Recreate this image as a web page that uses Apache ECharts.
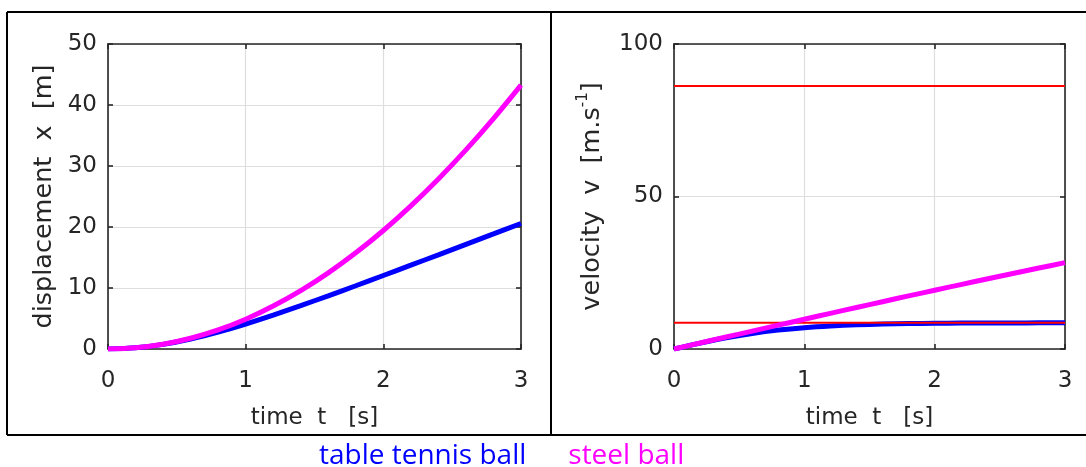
<!DOCTYPE html>
<html>
<head>
<meta charset="utf-8">
<script src="https://cdn.jsdelivr.net/npm/echarts@6/dist/echarts.min.js"></script>
<style>
  html, body { margin: 0; padding: 0; background: #fff; }
  #chart { width: 1086px; height: 467px; }
</style>
</head>
<body>
<div id="chart"></div>
<script>
// Sample times [s]
const times = [0, 0.2, 0.4, 0.6, 0.8, 1.0, 1.2, 1.4, 1.6, 1.8, 2.0, 2.2, 2.4, 2.6, 2.8, 3.0];

// Displacement [m]
const tableTennisX = [0, 0.19, 0.76, 1.64, 2.78, 4.10, 5.56, 7.11, 8.72, 10.37, 12.05, 13.74, 15.44, 17.15, 18.86, 20.58];
const steelX = [0, 0.20, 0.78, 1.76, 3.13, 4.89, 7.04, 9.56, 12.48, 15.77, 19.43, 23.47, 27.88, 32.65, 37.78, 43.27];

// Velocity [m/s]
const tableTennisV = [0, 1.93, 3.67, 5.11, 6.21, 7.00, 7.55, 7.92, 8.16, 8.32, 8.42, 8.49, 8.53, 8.55, 8.57, 8.58];
const steelV = [0, 1.96, 3.92, 5.87, 7.82, 9.76, 11.69, 13.61, 15.51, 17.40, 19.27, 21.12, 22.95, 24.76, 26.55, 28.31];

// Terminal velocities [m/s]
const terminalV = [8.6, 86.2];

// Axis ranges
const timeRange = [0, 3, 1];
const dispRange = [0, 50, 10];
const velRange = [0, 100, 50];

const names = ['table tennis ball', 'steel ball'];
const colors = ['#0000ff', '#ff00ff'];

const pairs = (ys) => times.map((t, i) => [t, ys[i]]);

const TXT = '#262626';
const FONT = 'DejaVu Sans';
const tickFont = { fontFamily: FONT, fontSize: 23, color: TXT };
const nameFont = { fontFamily: FONT, fontSize: 23, color: TXT };
const yNameSize = 25.5;

function xAxis(grid, top, withName) {
  return {
    type: 'value', gridIndex: grid, position: top ? 'top' : 'bottom',
    min: timeRange[0], max: timeRange[1], interval: timeRange[2],
    name: withName ? 'time  t   [s]' : '', nameLocation: 'middle', nameGap: 58,
    nameTextStyle: nameFont,
    axisLine: { show: true, onZero: false, lineStyle: { color: TXT, width: 1.6 } },
    axisTick: { show: true, inside: true, length: 5, lineStyle: { color: TXT, width: 1.6 } },
    axisLabel: { show: !top, margin: 21, ...tickFont },
    splitLine: { show: !top, lineStyle: { color: '#dedede', width: 1.2 } }
  };
}

function yAxis(grid, right, range, name, gap) {
  return {
    type: 'value', gridIndex: grid, position: right ? 'right' : 'left',
    min: range[0], max: range[1], interval: range[2],
    name: name || '', nameLocation: 'middle', nameGap: gap || 0, nameRotate: 90,
    nameTextStyle: {
      ...nameFont,
      fontSize: yNameSize,
      rich: {
        n: { fontFamily: FONT, fontSize: yNameSize, color: TXT, lineHeight: 32 },
        s: { fontFamily: FONT, fontSize: 15, color: TXT, lineHeight: 32, verticalAlign: 'top', padding: [0, 0, 15, 0] }
      }
    },
    axisLine: { show: true, onZero: false, lineStyle: { color: TXT, width: 1.6 } },
    axisTick: { show: true, inside: true, length: 5, lineStyle: { color: TXT, width: 1.6 } },
    axisLabel: { show: !right, margin: 11, ...tickFont },
    splitLine: { show: !right, lineStyle: { color: '#dedede', width: 1.2 } }
  };
}

function curve(name, color, xi, yi, ys, z) {
  return {
    type: 'line', name: name, xAxisIndex: xi, yAxisIndex: yi,
    data: pairs(ys), showSymbol: false, smooth: 0.3, z: z,
    lineStyle: { color: color, width: 5 }, itemStyle: { color: color },
    emphasis: { disabled: true }
  };
}

function flatLine(v) {
  return {
    type: 'line', xAxisIndex: 2, yAxisIndex: 2, showSymbol: false, z: 3,
    data: [[timeRange[0], v], [timeRange[1], v]],
    lineStyle: { color: '#ff0000', width: 2 }, emphasis: { disabled: true }
  };
}

const chart = echarts.init(document.getElementById('chart'), null, { renderer: 'canvas' });
chart.setOption({
  animation: false,
  backgroundColor: '#ffffff',
  grid: [
    { left: 108, top: 44, width: 413, height: 305 },
    { left: 674, top: 44, width: 391, height: 305 }
  ],
  xAxis: [xAxis(0, false, true), xAxis(0, true, false), xAxis(1, false, true), xAxis(1, true, false)],
  yAxis: [
    yAxis(0, false, dispRange, 'displacement  x  [m]', 51),
    yAxis(0, true, dispRange),
    yAxis(1, false, velRange, '{n|velocity  v  [m.s}{s|-1}{n|]}', 66),
    yAxis(1, true, velRange)
  ],
  legend: {
    left: 309, top: 437, itemGap: 37, itemWidth: 0, itemHeight: 0,
    selectedMode: false,
    textStyle: { fontFamily: 'Open Sans', fontSize: 28 },
    data: names.map((n, i) => ({ name: n, icon: 'none', textStyle: { color: colors[i] } }))
  },
  graphic: [
    { type: 'line', shape: { x1: 7, y1: 12, x2: 1090, y2: 12 }, style: { stroke: '#000', lineWidth: 2 } },
    { type: 'line', shape: { x1: 7, y1: 12, x2: 7, y2: 435 }, style: { stroke: '#000', lineWidth: 2 } },
    { type: 'line', shape: { x1: 7, y1: 435, x2: 1090, y2: 435 }, style: { stroke: '#000', lineWidth: 2 } },
    { type: 'line', shape: { x1: 551, y1: 12, x2: 551, y2: 435 }, style: { stroke: '#000', lineWidth: 2 } }
  ],
  series: [
    curve(names[0], colors[0], 0, 0, tableTennisX, 2),
    curve(names[1], colors[1], 0, 0, steelX, 4),
    curve(names[0], colors[0], 2, 2, tableTennisV, 2),
    flatLine(terminalV[0]),
    flatLine(terminalV[1]),
    curve(names[1], colors[1], 2, 2, steelV, 4)
  ]
});
</script>
</body>
</html>
